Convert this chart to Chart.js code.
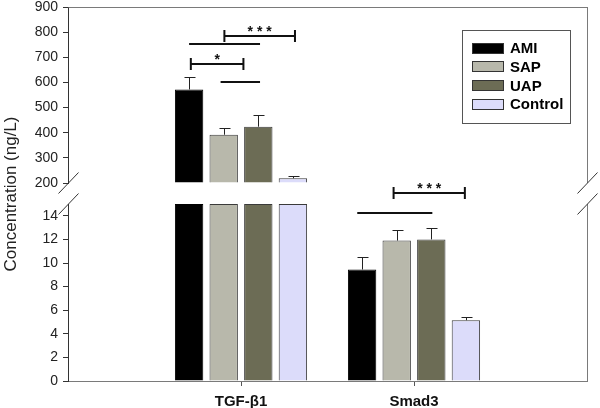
<!DOCTYPE html>
<html lang="en">
<head>
<meta charset="UTF-8">
<title>TGF-β1 and Smad3</title>
<script src="https://cdn.jsdelivr.net/npm/chart.js"></script>
<style>
  body { margin: 0; background: #fff; }
  #wrap { width: 600px; height: 408px; }
</style>
</head>
<body>
<div id="wrap"><canvas id="chart" width="600" height="408"></canvas></div>
<script>
// categories and groups
const categories = ['TGF-β1', 'Smad3'];
const groups = ['AMI', 'SAP', 'UAP', 'Control'];

// means, one value per category
const amiMean = [572, 9.45];
const sapMean = [392, 11.9];
const uapMean = [424, 12.0];
const controlMean = [219, 5.15];

// error (upper whisker only)
const amiErr = [48, 1.1];
const sapErr = [28, 0.9];
const uapErr = [45, 1.0];
const controlErr = [10, 0.25];

// broken axis: upper part 200-900, lower part 0-15
const topMin = 200, topMax = 900;
const botMin = 0, botMax = 15;

// significance marks: category, bar slot from/to, level, text
const sigCategory = [0, 0, 0, 0, 1, 1];
const sigFrom = [1.02, 0, 0.05, 0.91, 0.91, -0.14];
const sigTo = [3.06, 2.05, 1.57, 2.05, 2.97, 2.03];
const sigLevel = [785, 753, 672, 601, 15.9, 14.2];
const sigText = ['* * *', '', '*', '', '* * *', ''];

const colors = ['#000000', '#b8b8ab', '#6c6c55', '#dcdcfa'];
const means = [amiMean, sapMean, uapMean, controlMean];
const errs = [amiErr, sapErr, uapErr, controlErr];
const labels = ['', ...categories, ''];
const FONT = 'Arial, "Liberation Sans", sans-serif';

const datasets = [];
groups.forEach((g, i) => {
  datasets.push({
    label: g,
    data: [null, ...means[i].map(v => v >= topMin ? v : null), null],
    yAxisID: 'yTop', stack: g, base: topMin,
    backgroundColor: colors[i], borderColor: i === 0 ? '#000' : '#3a3a3a', borderWidth: 1
  });
});
groups.forEach((g, i) => {
  datasets.push({
    label: g,
    data: [null, ...means[i].map(v => Math.min(v, botMax)), null],
    yAxisID: 'yBot', stack: g,
    backgroundColor: colors[i], borderColor: i === 0 ? '#000' : '#3a3a3a', borderWidth: 1
  });
});

function px(v) { return Math.round(v) + 0.5; }

const extras = {
  id: 'extras',
  afterDatasetsDraw(chart) {
    const ctx = chart.ctx;
    const yTop = chart.scales.yTop, yBot = chart.scales.yBot;
    ctx.save();
    // error bars
    ctx.strokeStyle = '#222';
    ctx.lineWidth = 1;
    means.forEach((arr, i) => {
      arr.forEach((v, j) => {
        const onTop = v >= topMin;
        const axis = onTop ? yTop : yBot;
        const bar = chart.getDatasetMeta(onTop ? i : i + 4).data[j + 1];
        const x = px(bar.x);
        const y0 = axis.getPixelForValue(v);
        const y1 = Math.round(axis.getPixelForValue(v + errs[i][j])) + 0.5;
        ctx.beginPath();
        ctx.moveTo(x, y0);
        ctx.lineTo(x, y1);
        ctx.moveTo(x - 5, y1);
        ctx.lineTo(x + 6, y1);
        ctx.stroke();
      });
    });
    // significance brackets
    ctx.strokeStyle = '#111';
    ctx.fillStyle = '#111';
    ctx.lineWidth = 2;
    ctx.font = 'bold 14px ' + FONT;
    ctx.textAlign = 'center';
    ctx.textBaseline = 'middle';
    sigCategory.forEach((c, k) => {
      const m0 = chart.getDatasetMeta(0).data[c + 1];
      const m1 = chart.getDatasetMeta(1).data[c + 1];
      const step = m1.x - m0.x;
      const xa = m0.x + sigFrom[k] * step;
      const xb = m0.x + sigTo[k] * step;
      const axis = c === 0 ? yTop : yBot;
      const y = Math.round(axis.getPixelForValue(sigLevel[k]));
      ctx.beginPath();
      ctx.moveTo(xa, y);
      ctx.lineTo(xb, y);
      if (sigText[k]) {
        ctx.moveTo(xa, y - 6);
        ctx.lineTo(xa, y + 6);
        ctx.moveTo(xb, y - 6);
        ctx.lineTo(xb, y + 6);
      }
      ctx.stroke();
      if (sigText[k]) ctx.fillText(sigText[k], (xa + xb) / 2, y - 4);
    });
    ctx.restore();
  },
  afterDraw(chart) {
    const ctx = chart.ctx;
    const area = chart.chartArea;
    const yTop = chart.scales.yTop, yBot = chart.scales.yBot;
    const L = px(area.left), R = px(area.right);
    ctx.save();
    // frame: top line and right side
    ctx.strokeStyle = '#7a7a7a';
    ctx.lineWidth = 1;
    ctx.beginPath();
    ctx.moveTo(L, px(area.top));
    ctx.lineTo(R, px(area.top));
    ctx.moveTo(R, yTop.top);
    ctx.lineTo(R, yTop.bottom);
    ctx.moveTo(R, yBot.top);
    ctx.lineTo(R, yBot.bottom);
    ctx.stroke();
    // break marks
    ctx.strokeStyle = '#333';
    [L, R].forEach(x => {
      [yTop.bottom, yBot.top].forEach(y => {
        ctx.beginPath();
        ctx.moveTo(x - 10, y + 10.5);
        ctx.lineTo(x + 10, y - 10.5);
        ctx.stroke();
      });
    });
    // y title
    ctx.save();
    ctx.translate(11, (yTop.top + yBot.bottom) / 2);
    ctx.rotate(-Math.PI / 2);
    ctx.fillStyle = '#222';
    ctx.font = '17px ' + FONT;
    ctx.textAlign = 'center';
    ctx.textBaseline = 'middle';
    ctx.fillText('Concentration (ng/L)', 0, 0);
    ctx.restore();
    // legend
    const lx = 462, ly = 30, lw = 108, lh = 93;
    ctx.fillStyle = '#fff';
    ctx.fillRect(lx, ly, lw, lh);
    ctx.strokeStyle = '#555';
    ctx.strokeRect(lx + 0.5, ly + 0.5, lw, lh);
    ctx.font = 'bold 15px ' + FONT;
    ctx.textAlign = 'left';
    ctx.textBaseline = 'middle';
    groups.forEach((g, i) => {
      const cy = 48 + i * 18.7;
      ctx.fillStyle = colors[i];
      ctx.fillRect(472, Math.round(cy - 5.5), 32, 11);
      ctx.strokeStyle = '#333';
      ctx.strokeRect(472.5, Math.round(cy - 5.5) + 0.5, 31, 10);
      ctx.fillStyle = '#000';
      ctx.fillText(g, 510, cy + 1);
    });
    ctx.restore();
  }
};

const tickFont = { family: FONT, size: 14, lineHeight: 1 };
const fixY = s => { s.width = 68; s.paddingTop = 0; s.paddingBottom = 0; };

new Chart(document.getElementById('chart'), {
  type: 'bar',
  data: { labels: labels, datasets: datasets },
  options: {
    responsive: false,
    animation: false,
    categoryPercentage: 0.8,
    barPercentage: 0.82,
    layout: { padding: { left: 0, right: 13, top: 7, bottom: 0 } },
    plugins: { legend: { display: false }, tooltip: { enabled: false } },
    scales: {
      x: {
        offset: false,
        grid: {
          offset: false, drawOnChartArea: false, drawTicks: true, tickLength: 5,
          color: c => (c.index === 1 || c.index === 2) ? '#555' : 'rgba(0,0,0,0)'
        },
        border: { color: '#7a7a7a', width: 1 },
        ticks: { color: '#111', padding: 7, autoSkip: false, maxRotation: 0,
                 font: { family: FONT, size: 15, weight: 'bold' } },
        afterFit: s => { s.height = 27; s.paddingLeft = 0; s.paddingRight = 0; }
      },
      yBot: {
        type: 'linear', position: 'left', stack: 'v', stackWeight: 177,
        min: botMin, max: botMax,
        grid: { drawOnChartArea: false, tickLength: 5, color: '#333' },
        border: { color: '#333' },
        ticks: { stepSize: 2, includeBounds: false, autoSkip: false, padding: 5, color: '#222', font: tickFont },
        afterBuildTicks: s => { s.ticks = s.ticks.filter(t => t.value <= 14); },
        afterFit: fixY
      },
      yGap: {
        type: 'linear', position: 'left', stack: 'v', stackWeight: 21,
        display: false
      },
      yTop: {
        type: 'linear', position: 'left', stack: 'v', stackWeight: 176,
        min: topMin, max: topMax,
        grid: { drawOnChartArea: false, tickLength: 5, color: '#333' },
        border: { color: '#333' },
        ticks: { stepSize: 100, autoSkip: false, padding: 5, color: '#222', font: tickFont },
        afterFit: fixY
      }
    }
  },
  plugins: [extras]
});
</script>
</body>
</html>
